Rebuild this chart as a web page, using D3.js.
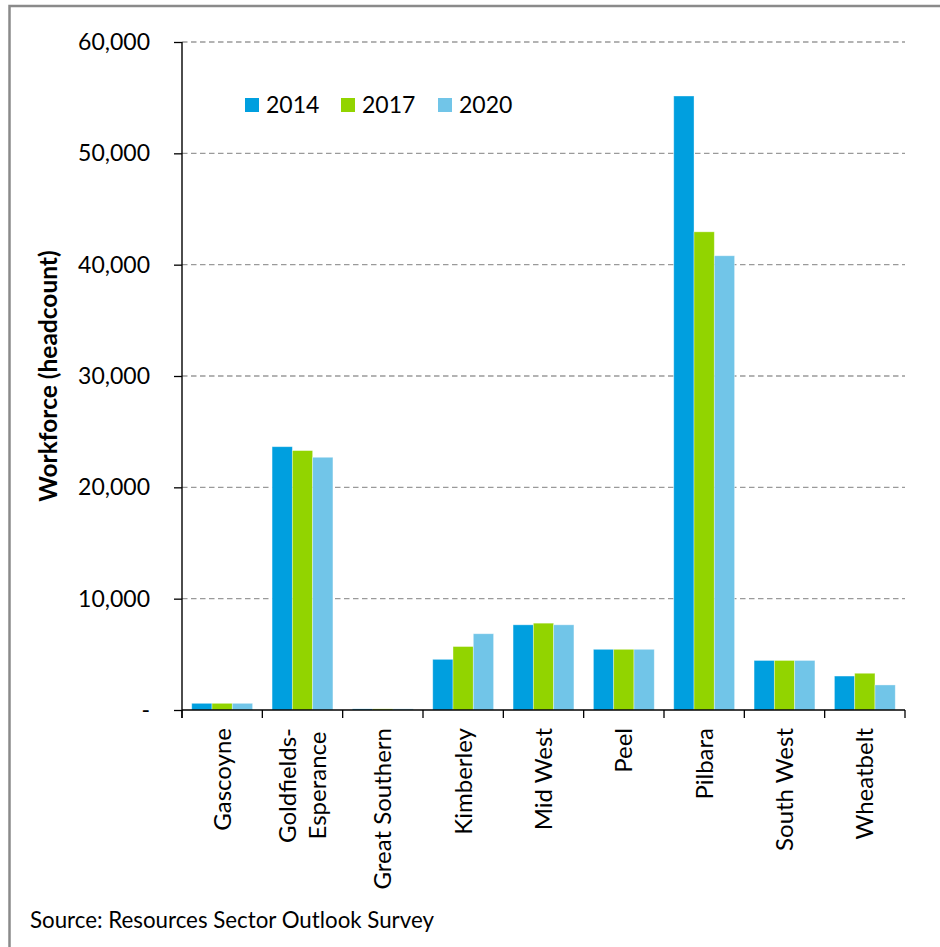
<!DOCTYPE html>
<html>
<head>
<meta charset="utf-8">
<script src="https://cdn.jsdelivr.net/npm/d3@7"></script>
<style>
  html, body { margin: 0; padding: 0; background: #fff; }
  svg { display: block; }
  text { font-family: Lato, "Liberation Sans", sans-serif; fill: #000; }
</style>
</head>
<body>
<svg id="chart" width="940" height="947"></svg>
<script>
// Resources sector workforce by WA region
const regions = ["Gascoyne", "Goldfields-Esperance", "Great Southern", "Kimberley",
                 "Mid West", "Peel", "Pilbara", "South West", "Wheatbelt"];
const years = ["2014", "2017", "2020"];
const workforce2014 = [600, 23650, 100, 4550, 7650, 5450, 55150, 4450, 3050];
const workforce2017 = [600, 23300, 100, 5700, 7800, 5450, 42950, 4450, 3300];
const workforce2020 = [600, 22700, 100, 6850, 7650, 5450, 40800, 4450, 2250];
const yTicks = [0, 10000, 20000, 30000, 40000, 50000, 60000];
const yTitle = "Workforce (headcount)";
const sourceNote = "Source: Resources Sector Outlook Survey";

const seriesValues = { "2014": workforce2014, "2017": workforce2017, "2020": workforce2020 };
const colors = { "2014": "#009FDF", "2017": "#92D400", "2020": "#71C5E8" };

const svg = d3.select("#chart");
const plot = { left: 182, right: 905, top: 42, bottom: 710 };

// outer frame (only left and top edges fall inside the view)
svg.append("rect")
  .attr("x", 9.5).attr("y", 6)
  .attr("width", 1000).attr("height", 1000)
  .attr("fill", "none").attr("stroke", "#8a8a8a").attr("stroke-width", 2.5);

const x0 = d3.scaleBand().domain(regions).range([plot.left, plot.right]).padding(0);
const x1 = d3.scaleBand().domain(years).range([0, x0.bandwidth()])
  .paddingInner(0).paddingOuter(0.48);
const y = d3.scaleLinear().domain([0, 60000]).range([plot.bottom, plot.top]);

// dashed horizontal gridlines
svg.append("g")
  .selectAll("line")
  .data(yTicks.filter(t => t > 0))
  .join("line")
  .attr("x1", plot.left).attr("x2", plot.right)
  .attr("y1", d => y(d)).attr("y2", d => y(d))
  .attr("stroke", "#9a9a9a").attr("stroke-width", 1.3)
  .attr("stroke-dasharray", "5.5,3.5");

// bars
const rows = regions.map((r, i) => ({ region: r, values: years.map(yr => ({ year: yr, value: seriesValues[yr][i] })) }));
svg.append("g")
  .selectAll("g")
  .data(rows)
  .join("g")
  .attr("transform", d => `translate(${x0(d.region)},0)`)
  .selectAll("rect")
  .data(d => d.values)
  .join("rect")
  .attr("x", d => x1(d.year))
  .attr("width", x1.bandwidth())
  .attr("y", d => y(d.value))
  .attr("height", d => y(0) - y(d.value))
  .attr("fill", d => colors[d.year])
  .attr("stroke", "#ffffff").attr("stroke-opacity", 0.45).attr("stroke-width", 0.8);

// y axis
const fmt = d3.format(",");
const yAxis = d3.axisLeft(y)
  .tickValues(yTicks)
  .tickSize(8)
  .tickPadding(24)
  .tickFormat(d => d === 0 ? "-" : fmt(d));
const gy = svg.append("g")
  .attr("transform", `translate(${plot.left},0)`)
  .call(yAxis);
gy.select(".domain").remove();
gy.selectAll(".tick line").attr("stroke", "#000").attr("stroke-width", 1.3);
gy.selectAll(".tick text")
  .attr("font-family", "Lato, 'Liberation Sans', sans-serif")
  .attr("font-size", 23).attr("fill", "#222");
svg.append("line")
  .attr("x1", plot.left).attr("x2", plot.left)
  .attr("y1", plot.top).attr("y2", plot.bottom + 8)
  .attr("stroke", "#000").attr("stroke-width", 1.4);

// x axis with ticks at category boundaries
svg.append("line")
  .attr("x1", plot.left).attr("x2", plot.right)
  .attr("y1", plot.bottom).attr("y2", plot.bottom)
  .attr("stroke", "#000").attr("stroke-width", 1.4);
const boundaries = regions.map(r => x0(r)).concat([plot.right]);
svg.append("g")
  .selectAll("line")
  .data(boundaries)
  .join("line")
  .attr("x1", d => d).attr("x2", d => d)
  .attr("y1", plot.bottom).attr("y2", plot.bottom + 8)
  .attr("stroke", "#000").attr("stroke-width", 1.3);

// rotated category labels; multi-line labels are centred on each other
const labelTop = plot.bottom + 18;
const lineGap = 30;
regions.forEach(r => {
  const lines = r.split(/(?<=-)/);
  const cx = x0(r) + x0.bandwidth() / 2;
  const g = svg.append("g");
  const texts = lines.map((ln, k) => g.append("text")
    .attr("transform", `translate(${cx + (k - (lines.length - 1) / 2) * lineGap},${labelTop}) rotate(-90)`)
    .attr("dy", "0.35em")
    .attr("text-anchor", "end")
    .attr("font-size", 24)
    .attr("fill", "#111")
    .text(ln));
  const lens = texts.map(t => t.node().getComputedTextLength());
  const maxLen = d3.max(lens);
  texts.forEach((t, k) => {
    const shift = (maxLen - lens[k]) / 2;
    const lx = cx + (k - (lines.length - 1) / 2) * lineGap;
    t.attr("transform", `translate(${lx},${labelTop + shift}) rotate(-90)`);
  });
});

// y axis title
svg.append("text")
  .attr("transform", `translate(48,${(plot.top + plot.bottom) / 2}) rotate(-90)`)
  .attr("dy", "0.35em")
  .attr("text-anchor", "middle")
  .attr("font-size", 24.5)
  .attr("font-weight", "bold")
  .text(yTitle);

// legend
const legendPos = { "2014": 245, "2017": 341, "2020": 438 };
const legend = svg.append("g");
years.forEach(yr => {
  legend.append("rect")
    .attr("x", legendPos[yr]).attr("y", 98)
    .attr("width", 14).attr("height", 14)
    .attr("fill", colors[yr]);
  legend.append("text")
    .attr("x", legendPos[yr] + 21).attr("y", 112.5)
    .attr("font-size", 23).attr("fill", "#222")
    .text(yr);
});

// source note
svg.append("text")
  .attr("x", 30).attr("y", 928)
  .attr("font-size", 22.3).attr("fill", "#222")
  .text(sourceNote);
</script>
</body>
</html>
